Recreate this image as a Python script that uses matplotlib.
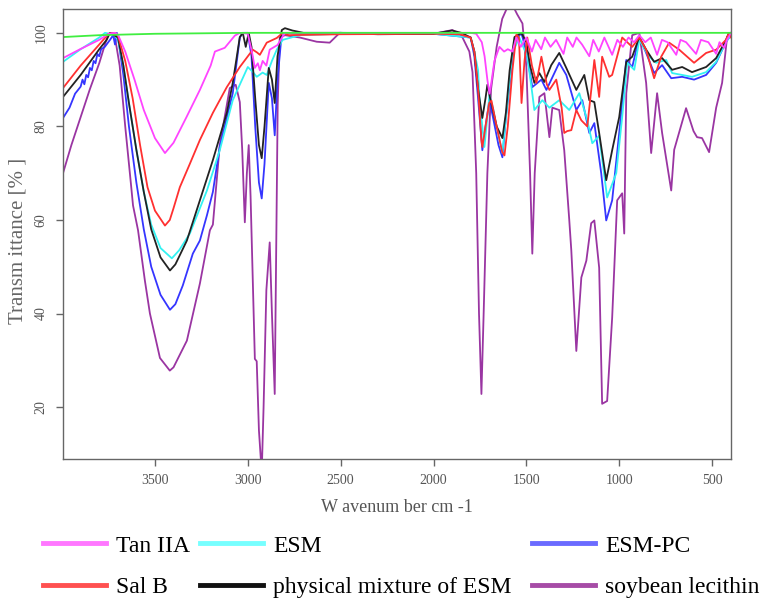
import matplotlib
matplotlib.use("Agg")
import matplotlib.pyplot as plt
from matplotlib.lines import Line2D

# FTIR spectra: wavenumber (cm-1) and transmittance (%)
tan_w = [3995, 3903, 3800, 3750, 3715, 3699, 3660, 3610, 3560, 3500, 3446, 3400, 3330, 3258, 3200, 3177,
         3124, 3070, 3043, 3000, 2978, 2962, 2946, 2935, 2920, 2900, 2882, 2840, 2800, 2600, 2000, 1800,
         1770, 1740, 1725, 1710, 1699, 1690, 1672, 1645, 1620, 1600, 1575, 1554, 1530, 1500, 1470, 1450,
         1420, 1400, 1370, 1340, 1300, 1280, 1250, 1230, 1200, 1161, 1140, 1110, 1080, 1038, 1010, 980,
         950, 920, 892, 860, 830, 796, 770, 740, 693, 670, 640, 586, 560, 520, 478, 460, 435, 420, 398]
tan_t = [94.6, 96.5, 98.5, 99.8, 100, 99.6, 96, 90, 83.5, 77.5, 74.3, 76.5, 82, 87.8, 93, 96,
         96.8, 99.4, 100, 99.8, 96, 92.5, 93.5, 92, 94, 93, 96.4, 97.4, 100, 100, 100, 100,
         99.8, 98, 95, 90, 87, 89, 94, 97, 96, 96.5, 96, 99, 97, 99, 96, 98.5,
         96.5, 99, 97, 98.5, 95.5, 99, 97, 99, 97.5, 95, 98.5, 96, 99, 95.3, 98.5, 97,
         99, 98, 99.5, 98, 99, 95.3, 98.5, 98, 95.3, 98.5, 98, 95.5, 98.5, 98, 95.5, 98, 96.8, 98.5, 100]

salb_w = [3995, 3900, 3800, 3750, 3715, 3700, 3660, 3620, 3580, 3540, 3500, 3446, 3420, 3400, 3366, 3312,
          3258, 3188, 3113, 3043, 2973, 2950, 2935, 2898, 2844, 2812, 2780, 2500, 2000, 1860, 1800, 1780,
          1760, 1742, 1737, 1720, 1700, 1688, 1660, 1630, 1618, 1600, 1575, 1554, 1540, 1526, 1510, 1495,
          1470, 1446, 1419, 1390, 1376, 1339, 1310, 1296, 1280, 1258, 1231, 1204, 1172, 1150, 1134, 1108,
          1092, 1054, 1038, 984, 930, 892, 855, 812, 774, 731, 677, 597, 532, 478, 425, 409, 398]
salb_t = [88.2, 93, 97.5, 99.8, 100, 99.5, 94, 86, 76, 67, 62, 58.8, 60, 62.5, 67, 72,
          77.1, 82.9, 88.4, 92.7, 96.4, 95.8, 95.3, 97.9, 98.9, 100, 99.5, 99.7, 99.8, 99.7, 99, 96,
          88, 77, 75.6, 80, 85, 85.5, 80, 74.5, 73.8, 80, 92, 99.6, 99, 85, 94, 99,
          93, 89.3, 94.9, 89, 87.8, 90, 84, 78.6, 79, 79.2, 83.5, 81.3, 80, 88, 94.2, 86.3,
          94.9, 90.6, 91, 99, 97, 99, 96.4, 90.3, 94.9, 97.9, 96.4, 93.6, 95.7, 96.4, 98.5, 100, 99]

mix_w = [3995, 3900, 3800, 3760, 3742, 3720, 3699, 3670, 3640, 3600, 3560, 3520, 3470, 3419, 3390, 3328,
         3258, 3188, 3113, 3081, 3043, 3027, 3011, 2995, 2980, 2960, 2940, 2925, 2910, 2887, 2870, 2855,
         2840, 2817, 2800, 2760, 2700, 2500, 2300, 2000, 1900, 1850, 1800, 1780, 1760, 1737, 1720, 1710,
         1695, 1660, 1629, 1610, 1590, 1564, 1527, 1500, 1480, 1457, 1430, 1403, 1366, 1323, 1285, 1231,
         1188, 1161, 1134, 1108, 1070, 1038, 1000, 962, 930, 892, 855, 812, 769, 715, 661, 608, 532, 478,
         425, 409, 398]
mix_t = [86.3, 91, 96.5, 98.5, 100, 99.5, 99, 93, 85, 75, 66, 58, 52, 49.2, 50.5, 55.6,
         64.2, 72.8, 82.9, 89.3, 99.1, 100, 97, 100, 97, 86, 76, 73.2, 80, 92.5, 90, 85,
         95, 100.6, 101, 100.5, 100, 100, 99.7, 99.8, 100.5, 100, 99, 96, 88, 81.8, 86, 88.9,
         86, 80, 77.5, 83, 92, 99.1, 100, 98, 93, 89.3, 91.4, 89.5, 93.1, 95.7, 92.5, 87.8,
         91, 85.6, 85.2, 78.6, 68.5, 74.9, 82, 93.8, 94.9, 99.1, 96.4, 93.8, 94.6, 92.1, 92.7, 91.6, 92.7, 94.6,
         98.5, 100, 99.5]

esm_w = [3995, 3900, 3800, 3769, 3720, 3699, 3670, 3640, 3600, 3560, 3520, 3470, 3409, 3370, 3312, 3220,
         3151, 3081, 3000, 2970, 2952, 2920, 2898, 2870, 2844, 2812, 2720, 2500, 2000, 1800, 1780, 1760,
         1753, 1726, 1710, 1699, 1680, 1650, 1629, 1610, 1575, 1538, 1495, 1468, 1457, 1414, 1376, 1323,
         1269, 1215, 1172, 1145, 1108, 1065, 1016, 984, 957, 919, 892, 839, 801, 747, 715, 608, 532, 478,
         425, 398]
esm_t = [93.8, 96.5, 99, 100, 99.6, 98.5, 93, 85, 75, 66, 59, 54, 51.8, 53.5, 57.1, 66.3,
         74.9, 85.6, 92.7, 91.5, 90.6, 91.5, 91, 94, 96.4, 98.5, 99.5, 99.8, 99.8, 99, 96, 92,
         86.3, 75.6, 82, 86.7, 84, 78, 74.3, 82, 95.7, 99, 95, 87, 83.5, 85.6, 84, 85.6,
         83.5, 87.1, 81.3, 76.4, 78, 64.8, 70, 82, 93.6, 92.1, 98.5, 94.9, 93.6, 94.2, 91.4, 90.6, 91.6, 93.8,
         98.1, 99.5]

pc_w = [3995, 3960, 3930, 3900, 3890, 3880, 3870, 3860, 3850, 3840, 3830, 3820, 3810, 3800, 3790, 3770,
        3742, 3725, 3715, 3705, 3699, 3670, 3640, 3600, 3560, 3520, 3470, 3419, 3390, 3350, 3296, 3258,
        3220, 3188, 3151, 3081, 3043, 3027, 3000, 2980, 2960, 2940, 2925, 2910, 2887, 2870, 2855, 2840,
        2817, 2720, 2500, 2000, 1800, 1780, 1760, 1737, 1720, 1699, 1680, 1650, 1629, 1610, 1564, 1527,
        1500, 1468, 1419, 1392, 1323, 1285, 1231, 1199, 1161, 1134, 1097, 1070, 1038, 1000, 962, 930,
        892, 855, 812, 769, 720, 661, 597, 532, 478, 425, 398]
pc_t = [81.8, 84, 87, 88.5, 90, 89, 91, 90.5, 92.5, 92, 94, 93.5, 95.5, 95, 96.5, 97,
        98.5, 99.5, 97.5, 100, 99, 91, 80, 68, 58, 50, 44, 40.8, 42, 46, 52.8, 55.6,
        61, 66, 75.6, 87.1, 99, 100, 100, 95, 80, 68, 64.6, 72, 89.3, 86, 78.1, 90,
        100, 99.8, 100, 99.8, 99, 95, 86, 74.9, 80, 85.6, 82, 76, 73.4, 82, 97.9, 100,
        96, 88.4, 90, 87.8, 93.6, 91, 83.5, 85.6, 78.6, 80.7, 70, 59.9, 64.2, 78.6, 94.2, 92.7,
        99.1, 95.7, 91.4, 93.1, 90.3, 90.6, 90, 91, 93.6, 98.1, 99.5]

soy_w = [3995, 3950, 3900, 3850, 3800, 3753, 3730, 3715, 3690, 3660, 3630, 3618, 3591, 3554, 3527, 3473,
         3420, 3400, 3328, 3258, 3204, 3188, 3151, 3097, 3065, 3043, 3030, 3016, 3005, 2995, 2985, 2962,
         2952, 2940, 2925, 2915, 2900, 2882, 2870, 2855, 2848, 2839, 2828, 2800, 2720, 2629, 2559, 2505,
         2300, 2000, 1898, 1850, 1807, 1790, 1770, 1755, 1742, 1730, 1710, 1690, 1660, 1630, 1602, 1575,
         1550, 1521, 1500, 1480, 1468, 1455, 1430, 1403, 1376, 1360, 1323, 1296, 1269, 1258, 1231, 1204,
         1177, 1151, 1134, 1108, 1092, 1065, 1038, 1011, 984, 973, 962, 930, 892, 855, 828, 796,
         769, 720, 704, 640, 600, 581, 554, 516, 478, 446, 419, 398]
soy_t = [70, 76, 82, 88, 93.5, 99.6, 100, 99, 93, 80, 68, 63.1, 57.8, 47, 40, 30.5,
         27.8, 28.5, 34.2, 46.4, 57.8, 59, 76, 88.2, 88.9, 85.2, 75, 59.5, 70, 76, 65, 30.3,
         29.8, 15, 6, 20, 45, 55.2, 40, 22.8, 50, 84.6, 99, 99.5, 99, 98.1, 97.9, 100,
         99.8, 99.8, 100.6, 99.5, 96, 91.6, 70, 40, 22.8, 40, 70, 88, 97, 103, 105.5, 106,
         104, 102, 92.7, 70, 52.8, 70, 86.3, 87.1, 77.7, 84, 83.5, 74.9, 60, 53.5, 32, 47.7,
         51.3, 59.3, 59.9, 49.8, 20.7, 21.3, 39.1, 64.2, 65.7, 57.1, 87.1, 99.5, 100, 89.3, 74.3, 87.1,
         78.6, 66.3, 75, 83.9, 79, 77.7, 77.5, 74.5, 84, 89.3, 99.1, 100]

bg_w = [3995, 3800, 3500, 3000, 2000, 398]
bg_t = [99.1, 99.5, 99.8, 100, 100, 100]

# legend columns as laid out in the figure
legend_cols = [["Tan IIA", "Sal B"], ["ESM", "physical mixture of ESM"], ["ESM-PC", "soybean lecithin"]]
legend_colors = [["#ff77ff", "#ff5050"], ["#77ffff", "#111111"], ["#6b6bff", "#a64ca6"]]
col_left_px = [43, 200, 532]

fig = plt.figure(figsize=(7.61, 5.99), dpi=100)
ax = fig.add_axes([0.0828, 0.2337, 0.8778, 0.7513])

lw = 1.3
ax.plot(soy_w, soy_t, color="#9a35a2", lw=lw)
ax.plot(pc_w, pc_t, color="#3535ff", lw=lw)
ax.plot(esm_w, esm_t, color="#33f2f2", lw=lw)
ax.plot(mix_w, mix_t, color="#222222", lw=lw)
ax.plot(salb_w, salb_t, color="#ff3030", lw=lw)
ax.plot(tan_w, tan_t, color="#ff44ff", lw=lw)
ax.plot(bg_w, bg_t, color="#40ee40", lw=lw)

ax.set_xlim(3995, 398)
ax.set_ylim(8.9, 105.1)
ax.set_xticks([3500, 3000, 2500, 2000, 1500, 1000, 500])
ax.set_yticks([20, 40, 60, 80, 100])

gray = "#666666"
for s in ax.spines.values():
    s.set_color(gray)
    s.set_linewidth(1.0)
ax.tick_params(direction="out", length=5, width=1, color=gray, labelcolor="#555555",
               labelsize=10, pad=6)
for t in ax.get_xticklabels() + ax.get_yticklabels():
    t.set_family("Liberation Serif")
for t in ax.get_yticklabels():
    t.set_rotation(90)
    t.set_va("center")

fig.text(397 / 761, 1 - 508 / 599, "W avenum ber cm -1", ha="center", va="center",
         family="Liberation Serif", fontsize=13, color="#555555")
fig.text(18 / 761, 1 - 241 / 599, "Transm ittance [% ]", ha="center", va="center",
         rotation=90, family="Liberation Serif", fontsize=15, color="#666666")

for labs, cols, xpx in zip(legend_cols, legend_colors, col_left_px):
    handles = [Line2D([], [], color=c, lw=3.5) for c in cols]
    fig.legend(handles, labs, loc="upper left", bbox_to_anchor=(xpx / 761, 1 - 535 / 599),
               frameon=False, borderpad=0, borderaxespad=0, handlelength=2.65, handletextpad=0.45,
               labelspacing=0.85, prop={"family": "Liberation Serif", "size": 17})

fig.savefig("out.png", dpi=100)
